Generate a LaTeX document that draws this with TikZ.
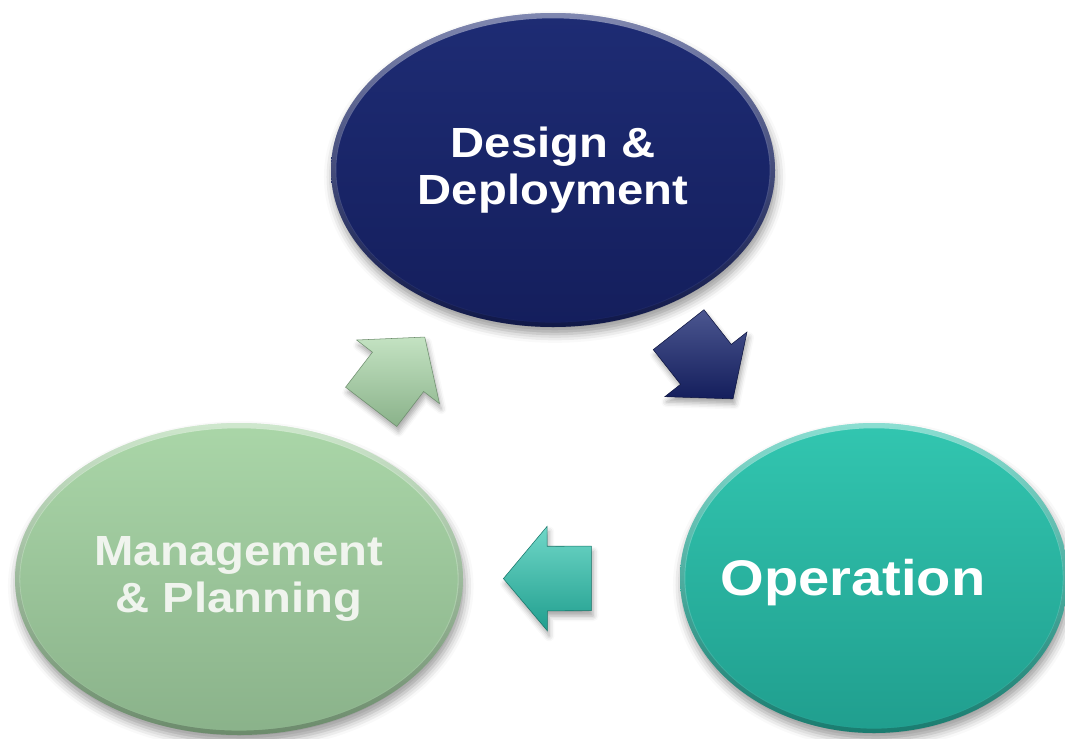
\documentclass[tikz,border=0pt]{standalone}
\usepackage{fontspec}
\setmainfont{Liberation Sans}
\newfontfamily\phasefont[FakeStretch=1.12]{Liberation Sans Bold}
\usetikzlibrary{shapes.geometric,shapes.arrows,shadows.blur,fadings,calc}

\definecolor{navytop}{RGB}{30,44,116}
\definecolor{navybot}{RGB}{20,30,92}
\definecolor{sagetop}{RGB}{170,214,168}
\definecolor{sagebot}{RGB}{138,178,138}
\definecolor{sagetext}{RGB}{240,244,238}
\definecolor{tealtop}{RGB}{50,198,176}
\definecolor{tealbot}{RGB}{32,158,142}

\tikzset{
  phase/.style={ellipse, inner sep=0pt, align=center, text=white,
    font=\phasefont\fontsize{24}{27.2}\selectfont,
    blur shadow={shadow xshift=1pt, shadow yshift=-4pt, shadow blur radius=5pt, shadow opacity=40},
    path picture={
      % soft bevel round the rim
      \draw[white, opacity=.45, line width=6pt, path fading=south]
        let \p1=(path picture bounding box.north east), \p2=(path picture bounding box.center)
        in (\p2) ellipse [x radius=\x1-\x2, y radius=\y1-\y2];
      \draw[black, opacity=.22, line width=5pt, path fading=north]
        let \p1=(path picture bounding box.north east), \p2=(path picture bounding box.center)
        in (\p2) ellipse [x radius=\x1-\x2, y radius=\y1-\y2];
    }},
  flow/.style={single arrow, inner xsep=0pt, inner ysep=6.4mm, minimum height=17.6mm,
    minimum width=20.8mm, single arrow head extend=4mm, single arrow tip angle=100,
    sloped, allow upside down, line width=0.3pt,
    blur shadow={shadow xshift=1pt, shadow yshift=-3pt, shadow blur radius=3pt, shadow opacity=35}}
}

\begin{document}
\begin{tikzpicture}[x=0.2mm,y=-0.2mm]
  \useasboundingbox (0,0) rectangle (1065,738);
  % phases
  \node[phase, top color=navytop, bottom color=navybot,
    minimum width=88.8mm, minimum height=62.8mm] (design) at (553,170) {Design \&\\Deployment};
  \node[phase, top color=sagetop, bottom color=sagebot, text=sagetext,
    minimum width=89.6mm, minimum height=62.4mm] (manage) at (239,579) {Management\\\& Planning};
  \node[phase, top color=tealtop, bottom color=tealbot,
    minimum width=77.6mm, minimum height=62mm] (operation) at (874,578) {};
  \node[text=white, inner sep=0pt, font=\phasefont\fontsize{28.5}{32}\selectfont]
    (optext) at (853,583) {Operation};
  % cycle arrows
  \path (manage.center) -- node[flow, pos=.48, top color=sagetop!70!white, bottom color=sagebot,
    draw=sagebot!80!black] (plan2design) {} (design.center);
  \path (design.center) -- node[flow, pos=.45, top color=navytop!80!white, bottom color=navybot,
    draw=navybot!70!black] (design2op) {} (operation.center);
  \path (operation.center) -- node[flow, pos=.493, top color=tealtop!70!white, bottom color=tealbot,
    draw=tealbot!75!black] (op2plan) {} (manage.center);
\end{tikzpicture}
\end{document}
